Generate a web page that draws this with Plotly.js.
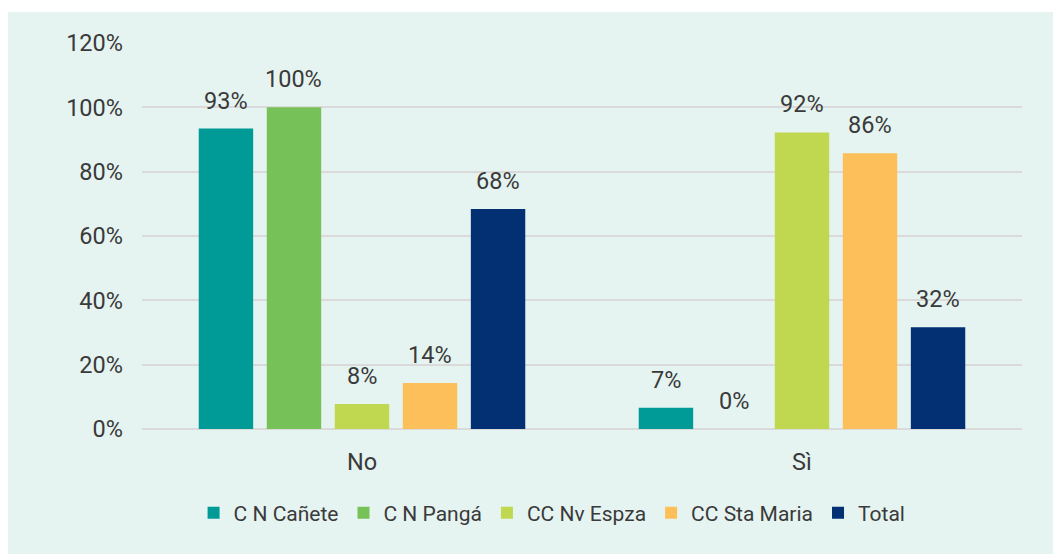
<!DOCTYPE html>
<html>
<head>
<meta charset="utf-8">
<script src="https://cdn.plot.ly/plotly-3.0.1.min.js"></script>
<style>
html,body{margin:0;padding:0;background:#ffffff;}
#chart{position:absolute;left:8px;top:12px;width:1045px;height:542px;}
</style>
</head>
<body>
<div id="chart"></div>
<script>
const categories = ['No', 'Sì'];
const seriesNames = ['C N Cañete', 'C N Pangá', 'CC Nv Espza', 'CC Sta Maria', 'Total'];
const cnCanete = [0.934, 0.066];
const cnPanga = [1.00, 0.00];
const ccNvEspza = [0.078, 0.922];
const ccStaMaria = [0.143, 0.857];
const total = [0.684, 0.316];
const colors = ['#009A97', '#77C159', '#BFD84F', '#FDBF5A', '#032F73'];
const yTickVals = [0, 0.2, 0.4, 0.6, 0.8, 1.0, 1.2];

const FONT = 'Roboto, "Liberation Sans", sans-serif';
const TXT = '#3A3A3A';
const seriesValues = [cnCanete, cnPanga, ccNvEspza, ccStaMaria, total];

const bargap = 0.227, bargroupgap = 0.2;

const traces = seriesValues.map((vals, i) => ({
  type: 'bar',
  name: seriesNames[i],
  x: categories,
  y: vals,
  marker: {color: colors[i]},
  hoverinfo: 'skip'
}));

// value labels, placed above each bar of the grouped layout
const annotations = [];
const n = seriesValues.length;
const groupW = 1 - bargap;
const slot = groupW / n;
seriesValues.forEach((vals, i) => {
  vals.forEach((v, j) => {
    annotations.push({
      x: j - groupW / 2 + (i + 0.5) * slot,
      y: v,
      xref: 'x', yref: 'y',
      text: Math.round(v * 100) + '%',
      showarrow: false,
      yanchor: 'bottom',
      yshift: 12,
      font: {family: FONT, size: 23.5, color: TXT}
    });
  });
});

const layout = {
  width: 1045, height: 542,
  paper_bgcolor: '#E5F4F1',
  plot_bgcolor: '#E5F4F1',
  margin: {l: 134, r: 31, t: 31, b: 125},
  barmode: 'group',
  bargap: bargap,
  bargroupgap: bargroupgap,
  font: {family: FONT, size: 23.5, color: TXT},
  xaxis: {
    type: 'category',
    showgrid: false,
    showline: false,
    zeroline: false,
    ticks: '',
    ticklabelstandoff: 16,
    tickfont: {family: FONT, size: 23.5, color: TXT}
  },
  yaxis: {
    range: [0, 1.2],
    tickvals: yTickVals,
    tickformat: '.0%',
    showgrid: true,
    gridcolor: '#DADADA',
    gridwidth: 2,
    zeroline: true,
    zerolinecolor: '#DADADA',
    zerolinewidth: 2,
    showline: false,
    ticks: '',
    ticklabelstandoff: 18,
    tickfont: {family: FONT, size: 23.5, color: TXT}
  },
  legend: {
    orientation: 'h',
    x: 0.466, xanchor: 'center',
    y: -0.218, yanchor: 'middle',
    bgcolor: 'rgba(0,0,0,0)',
    font: {family: FONT, size: 21, color: TXT},
    itemwidth: 30,
    traceorder: 'normal'
  },
  annotations: annotations,
  showlegend: true
};

Plotly.newPlot('chart', traces, layout, {displayModeBar: false, staticPlot: true});
</script>
</body>
</html>
